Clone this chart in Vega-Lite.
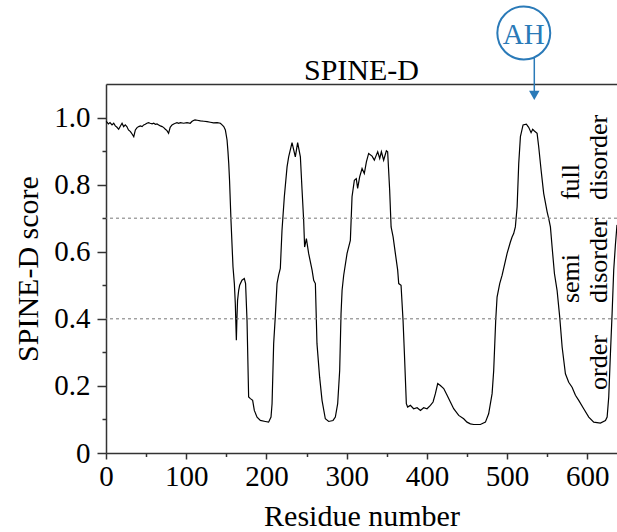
{
  "$schema": "https://vega.github.io/schema/vega-lite/v6.json",
  "width": 511,
  "height": 369,
  "autosize": {"type": "none"},
  "padding": {"left": 106, "top": 84, "right": 0, "bottom": 79},
  "background": "white",
  "config": {"view": {"stroke": null}, "font": "Liberation Serif"},
  "resolve": {"axis": {"x": "independent", "y": "independent"}},
  "layer": [
    {
      "data": {"values": [
        {"r": 0, "s": 0.988}, {"r": 1, "s": 0.987}, {"r": 3, "s": 0.981}, {"r": 5, "s": 0.985}, {"r": 7.5, "s": 0.978},
        {"r": 9.6, "s": 0.983}, {"r": 11.6, "s": 0.975}, {"r": 13.7, "s": 0.971}, {"r": 15.8, "s": 0.965}, {"r": 18, "s": 0.975},
        {"r": 20, "s": 0.983}, {"r": 22, "s": 0.973}, {"r": 24, "s": 0.978}, {"r": 26, "s": 0.973}, {"r": 28, "s": 0.963},
        {"r": 30.5, "s": 0.958}, {"r": 32.5, "s": 0.951}, {"r": 34.6, "s": 0.943}, {"r": 36.6, "s": 0.963}, {"r": 38.7, "s": 0.97},
        {"r": 40.8, "s": 0.973}, {"r": 42.9, "s": 0.975}, {"r": 45, "s": 0.973}, {"r": 47, "s": 0.978}, {"r": 49, "s": 0.98},
        {"r": 51, "s": 0.983}, {"r": 53, "s": 0.985}, {"r": 55, "s": 0.983}, {"r": 57.5, "s": 0.981}, {"r": 59.5, "s": 0.983},
        {"r": 61.6, "s": 0.98}, {"r": 63.6, "s": 0.981}, {"r": 65.7, "s": 0.978}, {"r": 67.8, "s": 0.975}, {"r": 70, "s": 0.973},
        {"r": 72, "s": 0.97}, {"r": 74, "s": 0.965}, {"r": 76, "s": 0.961}, {"r": 78, "s": 0.953}, {"r": 80, "s": 0.971},
        {"r": 82.3, "s": 0.978}, {"r": 84.4, "s": 0.981}, {"r": 86.5, "s": 0.983}, {"r": 88.5, "s": 0.985}, {"r": 90.6, "s": 0.983},
        {"r": 92.7, "s": 0.985}, {"r": 96.8, "s": 0.983}, {"r": 101, "s": 0.985}, {"r": 105, "s": 0.983}, {"r": 107, "s": 0.988},
        {"r": 109, "s": 0.991}, {"r": 111, "s": 0.993}, {"r": 113.6, "s": 0.992}, {"r": 117.7, "s": 0.99}, {"r": 122, "s": 0.989},
        {"r": 126, "s": 0.988}, {"r": 130, "s": 0.986}, {"r": 134, "s": 0.984}, {"r": 138.5, "s": 0.985}, {"r": 142.6, "s": 0.983},
        {"r": 144.7, "s": 0.978}, {"r": 146.8, "s": 0.973}, {"r": 148.8, "s": 0.963}, {"r": 150.9, "s": 0.933}, {"r": 152, "s": 0.9},
        {"r": 153, "s": 0.863}, {"r": 154, "s": 0.813}, {"r": 155.8, "s": 0.694}, {"r": 158.3, "s": 0.555}, {"r": 160, "s": 0.505},
        {"r": 161.2, "s": 0.445}, {"r": 162.5, "s": 0.336}, {"r": 163.2, "s": 0.4}, {"r": 164, "s": 0.455}, {"r": 165.4, "s": 0.485},
        {"r": 166.6, "s": 0.5}, {"r": 169.5, "s": 0.515}, {"r": 172.4, "s": 0.52}, {"r": 174, "s": 0.505}, {"r": 175.8, "s": 0.395},
        {"r": 177.8, "s": 0.167}, {"r": 180, "s": 0.162}, {"r": 182.8, "s": 0.157}, {"r": 184.9, "s": 0.127}, {"r": 188.3, "s": 0.107},
        {"r": 192.4, "s": 0.097}, {"r": 198.6, "s": 0.094}, {"r": 202.7, "s": 0.092}, {"r": 205.7, "s": 0.107}, {"r": 207, "s": 0.147},
        {"r": 209, "s": 0.326}, {"r": 211, "s": 0.405}, {"r": 213.2, "s": 0.505}, {"r": 215.2, "s": 0.53}, {"r": 217.3, "s": 0.55},
        {"r": 219.4, "s": 0.664}, {"r": 222.3, "s": 0.764}, {"r": 225.7, "s": 0.853}, {"r": 227.7, "s": 0.883}, {"r": 231.9, "s": 0.925},
        {"r": 236, "s": 0.883}, {"r": 238.9, "s": 0.925}, {"r": 242.3, "s": 0.883}, {"r": 244.4, "s": 0.784}, {"r": 246.4, "s": 0.694},
        {"r": 247.6, "s": 0.614}, {"r": 249.8, "s": 0.639}, {"r": 252.6, "s": 0.595}, {"r": 256.9, "s": 0.545}, {"r": 258.9, "s": 0.515},
        {"r": 261, "s": 0.505}, {"r": 263, "s": 0.326}, {"r": 266.3, "s": 0.226}, {"r": 269.3, "s": 0.157}, {"r": 273.4, "s": 0.102},
        {"r": 277.6, "s": 0.094}, {"r": 283, "s": 0.097}, {"r": 285.9, "s": 0.107}, {"r": 288.8, "s": 0.147}, {"r": 291.3, "s": 0.246},
        {"r": 293, "s": 0.416}, {"r": 294.3, "s": 0.485}, {"r": 296.3, "s": 0.53}, {"r": 300.5, "s": 0.595}, {"r": 304.6, "s": 0.634},
        {"r": 306.7, "s": 0.764}, {"r": 309.6, "s": 0.813}, {"r": 312, "s": 0.818}, {"r": 313.7, "s": 0.789}, {"r": 316.2, "s": 0.823},
        {"r": 319.2, "s": 0.848}, {"r": 322, "s": 0.833}, {"r": 324.6, "s": 0.868}, {"r": 327.4, "s": 0.893}, {"r": 331.7, "s": 0.885},
        {"r": 334.5, "s": 0.873}, {"r": 337, "s": 0.888}, {"r": 338.7, "s": 0.898}, {"r": 341.2, "s": 0.878}, {"r": 343.3, "s": 0.898},
        {"r": 346.1, "s": 0.873}, {"r": 349.5, "s": 0.901}, {"r": 351.1, "s": 0.898}, {"r": 353.6, "s": 0.784}, {"r": 355.4, "s": 0.674},
        {"r": 357.9, "s": 0.644}, {"r": 360.7, "s": 0.595}, {"r": 363.6, "s": 0.545}, {"r": 364.9, "s": 0.505}, {"r": 367.8, "s": 0.5},
        {"r": 370.3, "s": 0.395}, {"r": 372, "s": 0.296}, {"r": 374.4, "s": 0.147}, {"r": 376, "s": 0.137}, {"r": 379.4, "s": 0.142},
        {"r": 383.5, "s": 0.132}, {"r": 387.8, "s": 0.135}, {"r": 392, "s": 0.127}, {"r": 396, "s": 0.135}, {"r": 400.2, "s": 0.132},
        {"r": 404.4, "s": 0.142}, {"r": 407.7, "s": 0.152}, {"r": 410.6, "s": 0.177}, {"r": 413.5, "s": 0.207}, {"r": 416.8, "s": 0.201},
        {"r": 421, "s": 0.192}, {"r": 425.2, "s": 0.172}, {"r": 429.3, "s": 0.152}, {"r": 433.4, "s": 0.132}, {"r": 439.7, "s": 0.112},
        {"r": 445.9, "s": 0.102}, {"r": 450, "s": 0.092}, {"r": 454.2, "s": 0.087}, {"r": 458.4, "s": 0.085}, {"r": 466.7, "s": 0.085},
        {"r": 473, "s": 0.092}, {"r": 477, "s": 0.117}, {"r": 481.3, "s": 0.177}, {"r": 483.3, "s": 0.246}, {"r": 485.8, "s": 0.395},
        {"r": 487.5, "s": 0.465}, {"r": 490.8, "s": 0.505}, {"r": 493.8, "s": 0.53}, {"r": 500, "s": 0.595}, {"r": 504.1, "s": 0.629},
        {"r": 506.2, "s": 0.644}, {"r": 508.2, "s": 0.654}, {"r": 510.3, "s": 0.674}, {"r": 512.5, "s": 0.734}, {"r": 514.5, "s": 0.863},
        {"r": 516.6, "s": 0.943}, {"r": 519.9, "s": 0.978}, {"r": 524, "s": 0.98}, {"r": 526.9, "s": 0.971}, {"r": 529.9, "s": 0.955},
        {"r": 531.9, "s": 0.965}, {"r": 534, "s": 0.96}, {"r": 537.4, "s": 0.953}, {"r": 539.4, "s": 0.913}, {"r": 542.4, "s": 0.843},
        {"r": 545.6, "s": 0.774}, {"r": 549.9, "s": 0.719}, {"r": 551.9, "s": 0.699}, {"r": 554, "s": 0.674}, {"r": 556.1, "s": 0.614},
        {"r": 559, "s": 0.535}, {"r": 562.3, "s": 0.485}, {"r": 565.6, "s": 0.405}, {"r": 568.6, "s": 0.316}, {"r": 572.7, "s": 0.236},
        {"r": 576.8, "s": 0.211}, {"r": 581, "s": 0.196}, {"r": 585.2, "s": 0.172}, {"r": 589.3, "s": 0.157}, {"r": 595.5, "s": 0.132},
        {"r": 601.8, "s": 0.107}, {"r": 608, "s": 0.092}, {"r": 616.3, "s": 0.089}, {"r": 622.6, "s": 0.097}, {"r": 624.7, "s": 0.107},
        {"r": 626.7, "s": 0.167}, {"r": 628.8, "s": 0.296}, {"r": 630.9, "s": 0.416}, {"r": 632.9, "s": 0.545}, {"r": 635, "s": 0.62},
        {"r": 637, "s": 0.68}
      ]},
      "mark": {"type": "line", "color": "black", "strokeWidth": 1.2},
      "encoding": {
        "x": {"field": "r", "type": "quantitative", "scale": {"domain": [0, 637], "nice": false, "zero": false},
          "axis": {"orient": "bottom", "values": [0, 50, 100, 150, 200, 250, 300, 350, 400, 450, 500, 550, 600],
            "labelExpr": "datum.value % 100 == 0 ? datum.label : ''",
            "tickSize": {"condition": {"test": "datum.value % 100 == 0", "value": 6}, "value": 3.5},
            "grid": false, "title": "Residue number", "titleFont": "Liberation Serif", "titleFontSize": 30, "titleFontWeight": "normal", "titleColor": "black", "titlePadding": 10,
            "labelFont": "Liberation Serif", "labelFontSize": 29, "labelColor": "black", "labelPadding": 3, "labelFlush": false, "labelOverlap": false,
            "domainColor": "#333", "domainWidth": 1.5, "tickColor": "#333", "tickWidth": 1.5}},
        "y": {"field": "s", "type": "quantitative", "scale": {"domain": [0, 1.1], "nice": false},
          "axis": {"values": [0, 0.1, 0.2, 0.3, 0.4, 0.5, 0.6, 0.7, 0.8, 0.9, 1.0],
            "labelExpr": "datum.value == 0 ? '0' : (round(datum.value * 10) % 2 == 0 ? format(datum.value, '.1f') : '')",
            "tickSize": {"condition": {"test": "round(datum.value * 10) % 2 == 0", "value": 9}, "value": 4},
            "grid": false, "title": "SPINE-D score", "titleFont": "Liberation Serif", "titleFontSize": 30, "titleFontWeight": "normal", "titleColor": "black", "titlePadding": 10,
            "labelFont": "Liberation Serif", "labelFontSize": 29, "labelColor": "black", "labelPadding": 7, "labelFlush": false, "labelOverlap": false,
            "domainColor": "#333", "domainWidth": 1.5, "tickColor": "#333", "tickWidth": 1.5}}
      }
    },
    {
      "data": {"values": [{"threshold": 0.4}, {"threshold": 0.7}]},
      "mark": {"type": "rule", "color": "#777", "strokeWidth": 1, "strokeDash": [3, 3]},
      "encoding": {
        "y": {"field": "threshold", "type": "quantitative", "scale": {"domain": [0, 1.1], "nice": false}, "axis": null}
      }
    },
    {
      "data": {"values": [{}]},
      "mark": {"type": "text", "text": "SPINE-D", "font": "Liberation Serif", "fontSize": 30, "color": "black", "align": "center", "baseline": "alphabetic"},
      "encoding": {
        "x": {"datum": 318.5, "type": "quantitative", "scale": {"domain": [0, 637], "nice": false, "zero": false},
          "axis": {"orient": "top", "ticks": false, "labels": false, "title": null, "grid": false, "domainColor": "#333", "domainWidth": 1.5}},
        "y": {"datum": 1.112, "type": "quantitative", "scale": {"domain": [0, 1.1], "nice": false}, "axis": null}
      }
    },
    {
      "data": {"values": [{}]},
      "mark": {"type": "point", "shape": "circle", "filled": false, "stroke": "#2a7ab8", "strokeWidth": 2, "size": 2800, "opacity": 1},
      "encoding": {
        "x": {"datum": 520.8, "type": "quantitative", "scale": {"domain": [0, 637], "nice": false, "zero": false}, "axis": null},
        "y": {"datum": 1.252, "type": "quantitative", "scale": {"domain": [0, 1.1], "nice": false}, "axis": null}
      }
    },
    {
      "data": {"values": [{}]},
      "mark": {"type": "text", "text": "AH", "font": "Liberation Serif", "fontSize": 29, "color": "#2a7ab8", "align": "center", "baseline": "middle"},
      "encoding": {
        "x": {"datum": 520.8, "type": "quantitative", "scale": {"domain": [0, 637], "nice": false, "zero": false}, "axis": null},
        "y": {"datum": 1.247, "type": "quantitative", "scale": {"domain": [0, 1.1], "nice": false}, "axis": null}
      }
    },
    {
      "data": {"values": [{}]},
      "mark": {"type": "rule", "color": "#2a7ab8", "strokeWidth": 1.5},
      "encoding": {
        "x": {"datum": 533.9, "type": "quantitative", "scale": {"domain": [0, 637], "nice": false, "zero": false}, "axis": null},
        "y": {"datum": 1.178, "type": "quantitative", "scale": {"domain": [0, 1.1], "nice": false}, "axis": null},
        "y2": {"datum": 1.075}
      }
    },
    {
      "data": {"values": [{}]},
      "mark": {"type": "point", "shape": "triangle-down", "filled": true, "color": "#2a7ab8", "size": 110, "opacity": 1},
      "encoding": {
        "x": {"datum": 533.9, "type": "quantitative", "scale": {"domain": [0, 637], "nice": false, "zero": false}, "axis": null},
        "y": {"datum": 1.066, "type": "quantitative", "scale": {"domain": [0, 1.1], "nice": false}, "axis": null}
      }
    },
    {
      "data": {"values": [{}]},
      "mark": {"type": "text", "text": ["full", "disorder"], "font": "Liberation Serif", "fontSize": 26, "lineHeight": 28, "color": "black", "angle": 270, "align": "left", "baseline": "alphabetic"},
      "encoding": {
        "x": {"datum": 590, "type": "quantitative", "scale": {"domain": [0, 637], "nice": false, "zero": false}, "axis": null},
        "y": {"datum": 0.754, "type": "quantitative", "scale": {"domain": [0, 1.1], "nice": false}, "axis": null}
      }
    },
    {
      "data": {"values": [{}]},
      "mark": {"type": "text", "text": ["semi", "disorder"], "font": "Liberation Serif", "fontSize": 26, "lineHeight": 28, "color": "black", "angle": 270, "align": "left", "baseline": "alphabetic"},
      "encoding": {
        "x": {"datum": 590, "type": "quantitative", "scale": {"domain": [0, 637], "nice": false, "zero": false}, "axis": null},
        "y": {"datum": 0.447, "type": "quantitative", "scale": {"domain": [0, 1.1], "nice": false}, "axis": null}
      }
    },
    {
      "data": {"values": [{}]},
      "mark": {"type": "text", "text": "order", "font": "Liberation Serif", "fontSize": 26, "color": "black", "angle": 270, "align": "left", "baseline": "alphabetic"},
      "encoding": {
        "x": {"datum": 624.9, "type": "quantitative", "scale": {"domain": [0, 637], "nice": false, "zero": false}, "axis": null},
        "y": {"datum": 0.188, "type": "quantitative", "scale": {"domain": [0, 1.1], "nice": false}, "axis": null}
      }
    }
  ]
}
